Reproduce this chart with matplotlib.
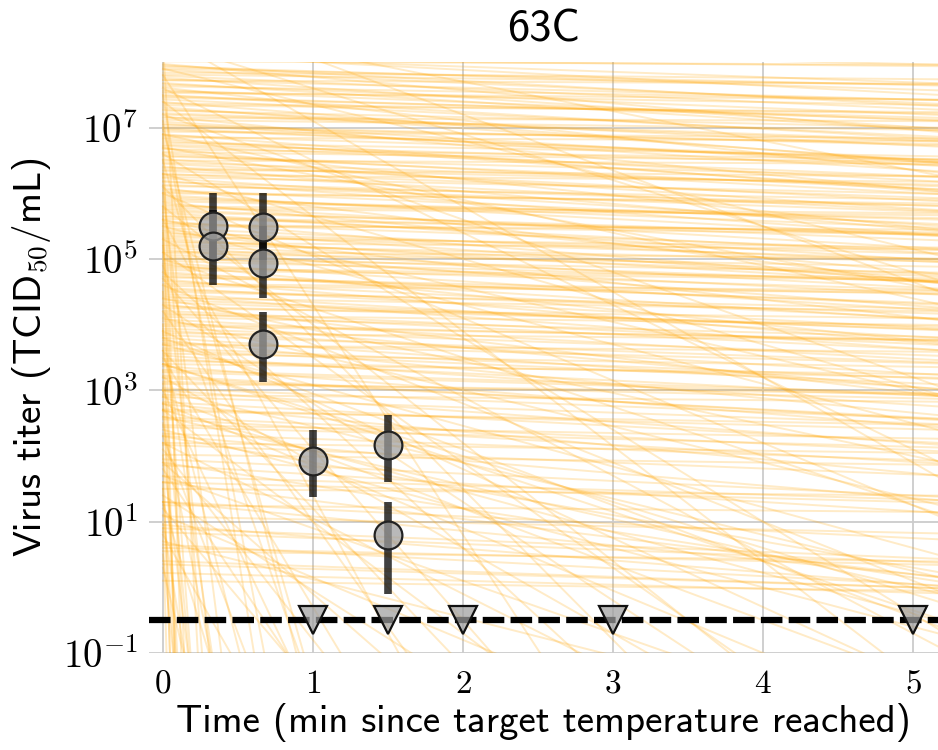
import numpy as np
import matplotlib
matplotlib.use("Agg")
import matplotlib.pyplot as plt
from matplotlib.ticker import FixedLocator, NullLocator

plt.rcParams["mathtext.fontset"] = "cm"
SANS = "cmss10"

# ---- posterior decay curves: log10 titer at t=0 and log10 decline per minute ----
flat_int = [8.22, 8.12, 8.04, 7.97, 7.93, 7.88, 7.81, 7.76, 7.72, 7.66, 7.61, 7.55, 7.50, 7.46,
            7.39, 7.34, 7.28, 7.22, 7.17, 7.12, 7.06, 7.01, 6.97, 6.90, 6.85, 6.80, 6.74, 6.69,
            6.63, 6.58, 6.52, 6.47, 6.41, 6.36, 6.30, 6.25, 6.19, 6.13, 6.08, 6.02, 5.97, 5.91,
            5.86, 5.80, 5.75, 5.70, 5.64, 5.58, 5.53, 5.47, 5.42, 5.36, 5.31, 5.25, 5.20, 5.14,
            5.09, 5.03, 4.97, 4.92, 4.86, 4.80, 4.74, 4.69, 4.62, 4.56, 4.50, 4.44, 4.38, 4.31,
            4.25, 4.18, 4.12, 4.05, 3.98, 3.91, 3.84, 3.76, 3.69, 3.61, 3.53, 3.45, 3.37, 3.28,
            3.19, 3.10, 3.00, 2.90, 2.79, 2.68, 2.56, 2.44, 2.31, 2.17, 2.02, 1.86, 1.69, 1.50,
            1.30, 1.08, 0.84, 0.55, 0.22]
flat_slope = [0.05, 0.12, 0.02, 0.20, 0.07, 0.10, 0.03, 0.15, 0.01, 0.09, 0.25, 0.04, 0.13, 0.06,
              0.18, 0.02, 0.11, 0.08, 0.22, 0.03, 0.14, 0.05, 0.09, 0.17, 0.01, 0.12, 0.06, 0.24,
              0.03, 0.10, 0.15, 0.07, 0.19, 0.02, 0.11, 0.05, 0.16, 0.08, 0.28, 0.04, 0.12, 0.06,
              0.21, 0.02, 0.09, 0.14, 0.05, 0.18, 0.03, 0.10, 0.26, 0.07, 0.13, 0.02, 0.09, 0.17,
              0.04, 0.11, 0.06, 0.23, 0.03, 0.14, 0.08, 0.19, 0.02, 0.12, 0.05, 0.16, 0.09, 0.27,
              0.03, 0.11, 0.06, 0.20, 0.04, 0.13, 0.08, 0.22, 0.02, 0.10, 0.15, 0.05, 0.18, 0.07,
              0.12, 0.03, 0.16, 0.08, 0.21, 0.04, 0.13, 0.06, 0.19, 0.09, 0.03, 0.14, 0.07, 0.02,
              0.11, 0.05, 0.09, 0.03, 0.06]

flat2_int = [8.18, 8.09, 8.01, 7.95, 7.90, 7.84, 7.79, 7.73, 7.68, 7.63,
             7.57, 7.53, 7.48, 7.43, 7.37, 7.31, 7.26, 7.20, 7.15, 7.09,
             7.04, 6.99, 6.94, 6.88, 6.83, 6.77, 6.72, 6.67, 6.61, 6.56,
             6.50, 6.45, 6.39, 6.34, 6.28, 6.23, 6.17, 6.11, 6.05, 6.00,
             5.94, 5.88, 5.83, 5.77, 5.72, 5.66, 5.61, 5.55, 5.50, 5.44,
             5.39, 5.33, 5.28, 5.22, 5.17, 5.11, 5.06, 5.00, 4.94, 4.89,
             4.83, 4.77, 4.72, 4.66, 4.59, 4.53, 4.47, 4.41, 4.34, 4.28,
             4.21, 4.15, 4.08, 4.01, 3.94, 3.87, 3.80, 3.72, 3.64, 3.56,
             3.48, 3.40, 3.31, 3.22, 3.13, 3.03, 2.93, 2.82, 2.71, 2.59,
             2.47, 2.34, 2.20, 1.95, 1.60, 1.25, 0.90, 0.60, 0.35, 0.10]
flat2_slope = [0.03, 0.08, 0.01, 0.12, 0.05, 0.02, 0.10, 0.06, 0.14, 0.04,
               0.09, 0.02, 0.07, 0.11, 0.03, 0.16, 0.05, 0.08, 0.01, 0.13,
               0.06, 0.10, 0.02, 0.07, 0.15, 0.04, 0.09, 0.03, 0.12, 0.06,
               0.01, 0.11, 0.05, 0.08, 0.02, 0.14, 0.07, 0.04, 0.10, 0.03,
               0.09, 0.05, 0.13, 0.02, 0.07, 0.11, 0.04, 0.08, 0.01, 0.15,
               0.06, 0.03, 0.10, 0.05, 0.12, 0.02, 0.08, 0.04, 0.14, 0.07,
               0.03, 0.09, 0.05, 0.11, 0.02, 0.07, 0.13, 0.04, 0.08, 0.06,
               0.10, 0.03, 0.12, 0.05, 0.08, 0.02, 0.15, 0.06, 0.09, 0.04,
               0.11, 0.03, 0.07, 0.13, 0.05, 0.09, 0.02, 0.12, 0.06, 0.10,
               0.04, 0.08, 0.03, 0.11, 0.06, 0.02, 0.09, 0.05, 0.07, 0.03]

mid_int = [8.6, 8.3, 7.9, 7.6, 7.2, 6.9, 6.6, 6.3, 6.0, 5.8, 5.5, 5.3, 5.0, 4.8, 4.6, 4.3, 4.1,
           3.9, 3.6, 3.4, 3.2, 2.9, 2.7, 2.4, 2.2, 1.9, 1.7, 1.4, 7.4, 6.1, 5.1, 4.4, 3.7, 2.6,
           1.1, 0.7, 8.9, 8.4, 6.7, 5.6]
mid_slope = [0.45, 0.70, 0.55, 1.10, 0.80, 0.50, 1.40, 0.65, 0.95, 1.80, 0.60, 1.20, 0.75, 2.10,
             0.90, 1.50, 0.55, 1.05, 2.40, 0.70, 1.30, 0.85, 1.70, 0.60, 1.15, 2.00, 0.80, 1.45,
             1.75, 2.30, 1.60, 0.48, 0.62, 0.52, 0.95, 0.58, 0.85, 1.30, 0.42, 0.52]

low_int = [3.4, 3.0, 2.7, 2.3, 1.9, 1.6, 1.3, 0.95, 0.65, 0.4, 2.8, 3.8]
low_slope = [0.75, 0.55, 0.62, 0.40, 0.35, 0.28, 0.22, 0.18, 0.12, 0.08, 0.95, 0.85]

steep_int = [7.8, 7.1, 6.5, 6.0, 5.6, 5.2, 4.9, 4.5, 4.2, 3.9, 3.6, 3.3, 3.0, 2.8, 2.5, 2.3, 2.0,
             1.8, 1.5, 1.3, 1.0, 0.8, 0.5, 0.3, 4.7, 3.5, 2.1, 1.2, 7.5, 6.3, 5.4,
             4.0, 3.1, 2.2, 1.6, 0.9, 7.0, 8.3, 6.9, 5.8]
steep_slope = [3.5, 12.0, 8.0, 18.0, 4.2, 20.0, 6.5, 30.0, 3.2, 15.0, 9.0, 25.0, 4.8, 40.0, 11.0,
               6.0, 18.0, 3.4, 35.0, 7.5, 14.0, 4.0, 22.0, 9.5, 2.6, 3.8, 2.9, 2.7,
               14.0, 28.0, 45.0, 60.0, 50.0, 70.0, 55.0, 80.0, 9.0, 40.0, 65.0, 90.0]

# ---- measured titers (log10 TCID50/mL) with 95% intervals ----
obs_time = [1/3, 1/3, 2/3, 2/3, 2/3, 1.0, 1.5, 1.5]
obs_log_titer = [5.50, 5.20, 5.49, 4.94, 3.70, 1.93, 2.17, 0.79]
obs_log_low = [5.00, 4.60, 4.99, 4.40, 3.12, 1.38, 1.61, -0.10]
obs_log_high = [6.00, 5.75, 6.00, 5.50, 4.19, 2.40, 2.62, 1.30]

# samples below the detection limit
nd_time = [1.0, 1.5, 2.0, 3.0, 5.0]
detection_log_limit = -0.5

x_ticks = [0, 1, 2, 3, 4, 5]
y_exponents = [-1, 1, 3, 5, 7]

fig = plt.figure(figsize=(9.38, 7.5), dpi=100)
ax = fig.add_axes([149 / 938, 97 / 750, 789 / 938, 591 / 750])

t = np.linspace(0, 5.2, 300)
groups = ((flat_int, flat_slope), (flat2_int, flat2_slope), (mid_int, mid_slope),
          (low_int, low_slope), (steep_int, steep_slope))
for ints, slopes in groups:
    for b, m in zip(ints, slopes):
        ax.plot(t, 10 ** (b - m * t), color="orange", alpha=0.22, lw=1.4, zorder=1)

ax.axhline(10 ** detection_log_limit, color="black", lw=4.5, dashes=(3.45, 1.0), zorder=3)

face = (0.62, 0.62, 0.62, 0.72)
obs_y = 10 ** np.array(obs_log_titer)
ax.vlines(obs_time, 10 ** np.array(obs_log_low), 10 ** np.array(obs_log_high),
          color="black", alpha=0.75, lw=5.5, zorder=4)
ax.plot(obs_time, obs_y, "o", ms=20, mfc=face, mec="#222222", mew=1.6, zorder=5)
ax.plot(nd_time, [10 ** detection_log_limit] * len(nd_time), "v", ms=20,
        mfc=face, mec="#111111", mew=1.6, zorder=5)

ax.set_yscale("log")
ax.set_ylim(1e-1, 1e8)
ax.set_xlim(-0.093, 5.167)
ax.yaxis.set_major_locator(FixedLocator([10.0 ** e for e in y_exponents]))
ax.set_yticklabels([rf"$10^{{{e}}}$" for e in y_exponents])
ax.yaxis.set_minor_locator(NullLocator())
ax.set_xticks(x_ticks)
ax.set_xticklabels([f"${v}$" for v in x_ticks])

for s in ax.spines.values():
    s.set_visible(False)
ax.grid(True, color="#cccccc", lw=1.3, zorder=0)
ax.set_axisbelow(True)
ax.tick_params(axis="y", length=0, pad=8, labelsize=28)
ax.tick_params(axis="x", length=0, pad=10, labelsize=24)

ax.set_title("63C", fontsize=32, family=SANS, pad=15)
ax.set_xlabel("Time (min since target temperature reached)", fontsize=28, family=SANS, labelpad=2)
ax.set_ylabel(r"Virus titer (TCID$_{50}$/mL)", fontsize=28, family=SANS)
ax.yaxis.set_label_coords(-0.122, 0.5)

fig.savefig("out.png", dpi=100)
